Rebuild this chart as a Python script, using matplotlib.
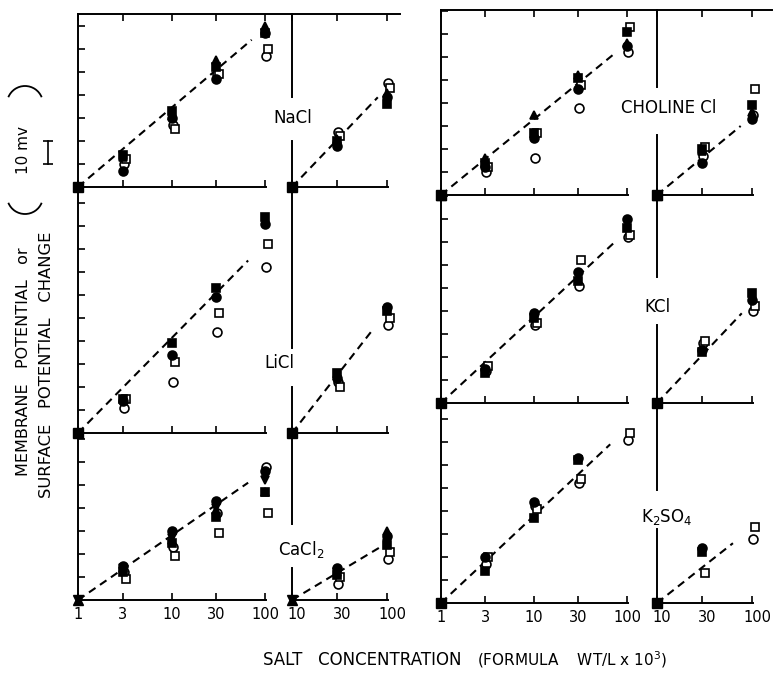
import numpy as np
import matplotlib
matplotlib.use("Agg")
import matplotlib.pyplot as plt
from matplotlib.lines import Line2D
from matplotlib.patches import Arc
from matplotlib.transforms import blended_transform_factory, offset_copy, ScaledTranslation
from matplotlib.ticker import NullLocator

# salt concentration (formula wt/L x 10^3)
conc_left = [3, 10, 30, 100]
conc_right = [30, 100]

# potential change in mV
# fc filled circle, oc open circle, fs filled square, os open square,
# ft filled triangle, fv filled triangle pointing down
nacl_left = {"fc": [7, 30, 47, 67], "oc": [10, 27, 49, 57], "fs": [14, 33, 52, 67],
             "os": [12, 25, 49, 60], "ft": [13, 31, 55, 70]}
nacl_right = {"fc": [18, 39], "oc": [24, 45], "fs": [20, 36], "os": [22, 43], "ft": [21, 41]}

licl_left = {"fc": [14, 34, 59, 91], "oc": [11, 22, 44, 72], "fs": [15, 39, 63, 94],
             "os": [15, 31, 52, 82]}
licl_right = {"fc": [24, 55], "oc": [22, 47], "fs": [26, 53], "os": [20, 50]}

cacl2_left = {"fc": [15, 30, 43, 56], "oc": [12, 23, 38, 58], "fs": [12, 25, 36, 47],
              "os": [9, 19, 29, 38], "ft": [14, 26, 39, 47], "fv": [14, 27, 40, 52]}
cacl2_right = {"fc": [14, 28], "oc": [7, 18], "fs": [11, 24], "os": [10, 21],
               "ft": [12, 30], "fv": [12, 25]}

choline_left = {"fc": [12, 25, 46, 65], "oc": [10, 16, 38, 62], "fs": [14, 27, 51, 71],
                "os": [12, 27, 48, 73], "ft": [16, 35, 52, 66]}
choline_right = {"fc": [14, 33], "oc": [17, 35], "fs": [20, 39], "os": [21, 46], "ft": [19, 36]}

kcl_left = {"fc": [15, 39, 57, 80], "oc": [14, 34, 51, 72], "fs": [13, 37, 53, 76],
            "os": [16, 35, 62, 73]}
kcl_right = {"fc": [23, 45], "oc": [26, 40], "fs": [22, 48], "os": [27, 42]}

k2so4_left = {"fc": [20, 44, 63, np.nan], "oc": [17, 42, 52, 71], "fs": [14, 37, 62, np.nan],
              "os": [20, 41, 54, 74]}
k2so4_right = {"fc": [24, np.nan], "oc": [np.nan, 28], "fs": [22, np.nan], "os": [13, 33]}

# dashed fits: [end concentration, end mV], starting at 0 mV at lowest conc
nacl_fit = [[72, 64], [80, 39]]
licl_fit = [[66, 75], [68, 44]]
cacl2_fit = [[66, 51], [85, 23]]
choline_fit = [[71, 61], [76, 30]]
kcl_fit = [[74, 70], [78, 39]]
k2so4_fit = [[66, 69], [63, 26]]

W, H = 774, 675
MV_PX = 2.3
fig = plt.figure(figsize=(W / 100, H / 100), dpi=100)
plt.rcParams["mathtext.default"] = "regular"

styles = {
    "oc": dict(marker="o", mfc="white", mec="black"),
    "os": dict(marker="s", mfc="white", mec="black"),
    "fc": dict(marker="o", mfc="black", mec="black"),
    "fs": dict(marker="s", mfc="black", mec="black"),
    "ft": dict(marker="^", mfc="black", mec="black"),
    "fv": dict(marker="v", mfc="black", mec="black"),
}
shift = {"os": 3, "oc": 1}
order = ["oc", "os", "fc", "fs", "ft", "fv"]

# column geometry in pixels: x of conc 1 / 100 (left part), 10 / 100 (right part), row spans
columns = [
    dict(l1=78, l100=265, r10=292, r100=387, end=400,
         rows=[(14, 187), (187, 433), (433, 600)]),
    dict(l1=441, l100=627, r10=657, r100=752, end=772,
         rows=[(10, 195), (195, 403), (403, 603)]),
]

panels = [
    (0, 0, "NaCl", nacl_left, nacl_right, nacl_fit, (293, 118), [(0, 20), (39, None)], ["fs"]),
    (0, 1, "LiCl", licl_left, licl_right, licl_fit, (279, 363), [(0, 20), (37, None)], ["fs"]),
    (0, 2, "CaCl$_2$", cacl2_left, cacl2_right, cacl2_fit, (301, 550), [(0, 14), (33, None)], ["ft", "fv"]),
    (1, 0, "CHOLINE Cl", choline_left, choline_right, choline_fit, (669, 108), [(0, 26), (47, None)], ["fs", "ft"]),
    (1, 1, "KCl", kcl_left, kcl_right, kcl_fit, (657, 307), [(0, 34), (55, None)], ["fs"]),
    (1, 2, "K$_2$SO$_4$", k2so4_left, k2so4_right, k2so4_fit, (667, 517), [(0, 32), (49, None)], ["fs"]),
]


def add_ax(x0, x1, ytop, ybot):
    return fig.add_axes([x0 / W, 1 - ybot / H, (x1 - x0) / W, (ybot - ytop) / H])


def draw_points(ax, conc, data):
    for key in order:
        if key in data:
            tr = offset_copy(ax.transData, fig=fig, x=shift.get(key, 0), y=0, units="dots")
            ax.plot(conc, data[key], ls="none", ms=6.4, mew=1.2, clip_on=False,
                    zorder=4, transform=tr, **styles[key])


top_axes = {}
for ci, ri, name, left, right, fit, lab, segs, origin in panels:
    col = columns[ci]
    ytop, ybot = col["rows"][ri]
    ymax = (ybot - ytop) / MV_PX
    dec_l = (col["l100"] - col["l1"]) / 2.0
    dec_r = col["r100"] - col["r10"]
    axl = add_ax(col["l1"], col["l100"] + dec_l * np.log10(1.02), ytop, ybot)
    axr = add_ax(col["r10"], col["r100"] + dec_r * np.log10(1.02), ytop, ybot)
    for ax, lo, ticks, conc, data, (xe, ye) in [
        (axl, 1, [1, 3, 10, 30, 100], conc_left, left, fit[0]),
        (axr, 10, [10, 30, 100], conc_right, right, fit[1]),
    ]:
        ax.set_xscale("log")
        ax.set_xlim(lo, 102)
        ax.set_ylim(0, ymax)
        ax.patch.set_alpha(0)
        ax.spines["top"].set_visible(False)
        ax.spines["right"].set_visible(False)
        ax.spines["bottom"].set_linewidth(1.4)
        ax.spines["left"].set_linewidth(1.4)
        ax.set_xticks(ticks)
        ax.xaxis.set_minor_locator(NullLocator())
        if ri == 2:
            ax.set_xticklabels([str(t) for t in ticks], fontsize=10.5)
        else:
            ax.set_xticklabels([])
        ax.tick_params(axis="x", direction="in", length=5, width=1.2, pad=5,
                       top=(ri == 0))
        ax.plot([lo, xe], [0, ye], color="black", lw=1.5, ls=(0, (3.8, 2.6)), zorder=3)
        draw_points(ax, conc, data)
        for key in origin:
            ax.plot([lo], [0], ls="none", ms=6.8, clip_on=False, zorder=5, **styles[key])
    # labels of the right part sit a little to the right of their ticks
    for t in axr.get_xticklabels():
        t.set_transform(t.get_transform() + ScaledTranslation(5 / 100, 0, fig.dpi_scale_trans))
    axl.set_yticks(np.arange(10, ymax, 10))
    axl.set_yticklabels([])
    axl.tick_params(axis="y", direction="in", length=5, width=1.2)
    axr.spines["left"].set_visible(False)
    axr.set_yticks([])
    for a, b in segs:
        axr.plot([10, 10], [a, ymax if b is None else b], color="black", lw=1.4,
                 clip_on=False, zorder=2)
    fig.text(lab[0] / W, 1 - lab[1] / H, name, ha="center", va="center", fontsize=12)
    if ri == 0:
        top_axes[ci] = axl
        fig.add_artist(Line2D([col["l1"] / W, col["end"] / W], [1 - ytop / H] * 2,
                              color="black", lw=1.4))

# 10 mV scale bar beside the top-left panel
ax0 = top_axes[0]
tr = blended_transform_factory(ax0.transAxes, ax0.transData)
ax0.plot([-0.16, -0.16], [10, 20], color="black", lw=1.2, transform=tr, clip_on=False,
         marker="_", ms=7, mew=1.2)

fig.text(24 / W, 1 - 362 / H, "MEMBRANE   POTENTIAL   or", rotation=90,
         ha="center", va="center", fontsize=11.5)
fig.text(47 / W, 1 - 365 / H, "SURFACE   POTENTIAL   CHANGE", rotation=90,
         ha="center", va="center", fontsize=11.8)
fig.text(24 / W, 1 - 150 / H, "10 mv", rotation=90, ha="center", va="center", fontsize=11)
# the large brackets round "10 mv"
fig.add_artist(Arc((25 / W, 1 - 104 / H), 36 / W, 36 / H, theta1=25, theta2=155,
                   transform=fig.transFigure, color="black", lw=1.3))
fig.add_artist(Arc((25 / W, 1 - 196 / H), 36 / W, 36 / H, theta1=205, theta2=335,
                   transform=fig.transFigure, color="black", lw=1.3))

fig.text(263 / W, 1 - 660 / H, "SALT   CONCENTRATION", ha="left", va="center", fontsize=12)
fig.text(477 / W, 1 - 660 / H, "(FORMULA    WT/L x 10$^3$)", ha="left", va="center", fontsize=11)

fig.savefig("out.png", dpi=100)
